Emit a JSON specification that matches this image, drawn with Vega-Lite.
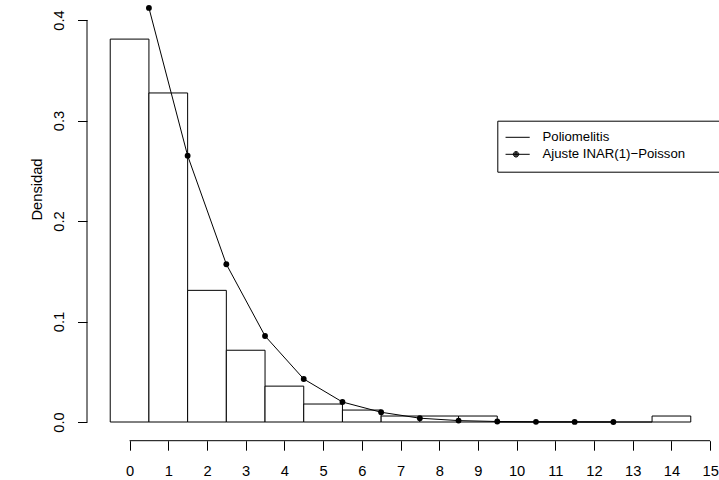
{
  "$schema": "https://vega.github.io/schema/vega-lite/v6.json",
  "width": 627,
  "height": 440.7,
  "autosize": {"type": "none"},
  "padding": {"left": 87, "top": 0, "right": 5, "bottom": 39.3},
  "background": "white",
  "config": {
    "view": {"stroke": null},
    "font": "Liberation Sans",
    "axis": {
      "grid": false,
      "domain": false,
      "tickColor": "black",
      "tickWidth": 1,
      "tickSize": 9.5,
      "labelColor": "black",
      "labelFont": "Liberation Sans",
      "labelFontSize": 14.7,
      "labelFlush": false,
      "labelOverlap": false,
      "titleFont": "Liberation Sans",
      "titleFontSize": 14.7,
      "titleFontWeight": "normal",
      "titleColor": "black"
    }
  },
  "datasets": {
    "histograma": [
      {"desde": -0.5, "hasta": 0.5, "densidad": 0.381},
      {"desde": 0.5, "hasta": 1.5, "densidad": 0.3274},
      {"desde": 1.5, "hasta": 2.5, "densidad": 0.131},
      {"desde": 2.5, "hasta": 3.5, "densidad": 0.0714},
      {"desde": 3.5, "hasta": 4.5, "densidad": 0.0357},
      {"desde": 4.5, "hasta": 5.5, "densidad": 0.0179},
      {"desde": 5.5, "hasta": 6.5, "densidad": 0.0119},
      {"desde": 6.5, "hasta": 7.5, "densidad": 0.00595},
      {"desde": 7.5, "hasta": 8.5, "densidad": 0.00595},
      {"desde": 8.5, "hasta": 9.5, "densidad": 0.00595},
      {"desde": 9.5, "hasta": 10.5, "densidad": 0},
      {"desde": 10.5, "hasta": 11.5, "densidad": 0},
      {"desde": 11.5, "hasta": 12.5, "densidad": 0},
      {"desde": 12.5, "hasta": 13.5, "densidad": 0},
      {"desde": 13.5, "hasta": 14.5, "densidad": 0.00595}
    ],
    "ajuste": [
      {"x": 0.5, "densidad": 0.412},
      {"x": 1.5, "densidad": 0.265},
      {"x": 2.5, "densidad": 0.157},
      {"x": 3.5, "densidad": 0.0856},
      {"x": 4.5, "densidad": 0.0428},
      {"x": 5.5, "densidad": 0.0199},
      {"x": 6.5, "densidad": 0.0097},
      {"x": 7.5, "densidad": 0.0038},
      {"x": 8.5, "densidad": 0.0014},
      {"x": 9.5, "densidad": 0.0005},
      {"x": 10.5, "densidad": 0.0002},
      {"x": 11.5, "densidad": 0.0001},
      {"x": 12.5, "densidad": 0.00003}
    ]
  },
  "layer": [
    {
      "data": {"name": "histograma"},
      "mark": {"type": "rect", "fill": "white", "stroke": "black", "strokeWidth": 1},
      "encoding": {
        "x": {
          "field": "desde",
          "type": "quantitative",
          "scale": {"domain": [-1.1, 15.1], "nice": false, "zero": false},
          "axis": {
            "title": null,
            "values": [0, 1, 2, 3, 4, 5, 6, 7, 8, 9, 10, 11, 12, 13, 14, 15],
            "format": "d",
            "labelBaseline": "middle",
            "labelPadding": 21
          }
        },
        "x2": {"field": "hasta"},
        "y": {
          "field": "densidad",
          "type": "quantitative",
          "scale": {"domain": [-0.0186, 0.4199], "nice": false, "zero": false},
          "axis": {
            "title": "Densidad",
            "values": [0, 0.1, 0.2, 0.3, 0.4],
            "format": ".1f",
            "labelAngle": 270,
            "labelAlign": "center",
            "labelBaseline": "middle",
            "labelPadding": 18,
            "titleAngle": 270,
            "titleAlign": "center",
            "titleBaseline": "middle",
            "titleX": -50,
            "titleY": 189
          }
        },
        "y2": {"datum": 0}
      }
    },
    {
      "data": {"values": [{"desde": 0, "hasta": 15, "nivel": -0.0186}]},
      "mark": {"type": "rule", "color": "black", "strokeWidth": 1},
      "encoding": {
        "x": {"field": "desde", "type": "quantitative"},
        "x2": {"field": "hasta"},
        "y": {"field": "nivel", "type": "quantitative"}
      }
    },
    {
      "data": {"values": [{"desde": 0, "hasta": 0.4, "nivel": -1.1}]},
      "mark": {"type": "rule", "color": "black", "strokeWidth": 1},
      "encoding": {
        "y": {"field": "desde", "type": "quantitative"},
        "y2": {"field": "hasta"},
        "x": {"field": "nivel", "type": "quantitative"}
      }
    },
    {
      "data": {"name": "ajuste"},
      "mark": {"type": "line", "color": "black", "strokeWidth": 1},
      "encoding": {
        "x": {"field": "x", "type": "quantitative"},
        "y": {"field": "densidad", "type": "quantitative"}
      }
    },
    {
      "data": {"name": "ajuste"},
      "mark": {"type": "point", "filled": true, "color": "black", "size": 34, "opacity": 1},
      "encoding": {
        "x": {"field": "x", "type": "quantitative"},
        "y": {"field": "densidad", "type": "quantitative"}
      }
    },
    {
      "data": {"values": [{"serie": "Poliomelitis"}, {"serie": "Ajuste INAR(1)−Poisson"}]},
      "transform": [{"filter": "false"}],
      "mark": {"type": "point", "filled": false, "color": "black", "strokeWidth": 1, "opacity": 1},
      "encoding": {
        "shape": {
          "field": "serie",
          "type": "nominal",
          "scale": {
            "domain": ["Poliomelitis", "Ajuste INAR(1)−Poisson"],
            "range": ["stroke", "M-1,0L1,0M0.2,0A0.2,0.2,0,1,1,-0.2,0A0.2,0.2,0,1,1,0.2,0M0.14,0A0.14,0.14,0,1,1,-0.14,0A0.14,0.14,0,1,1,0.14,0M0.08,0A0.08,0.08,0,1,1,-0.08,0A0.08,0.08,0,1,1,0.08,0M0.03,0A0.03,0.03,0,1,1,-0.03,0A0.03,0.03,0,1,1,0.03,0"]
          },
          "legend": {
            "title": "\u00a0",
            "titleOrient": "right",
            "titlePadding": 30,
            "titleFontSize": 13.2,
            "orient": "none",
            "legendX": 410.3,
            "legendY": 120.7,
            "padding": 8.25,
            "strokeColor": "black",
            "fillColor": "white",
            "symbolSize": 746,
            "symbolStrokeWidth": 1,
            "symbolStrokeColor": "black",
            "symbolOpacity": 1,
            "symbolOffset": -4,
            "labelFont": "Liberation Sans",
            "labelFontSize": 13.2,
            "labelColor": "black",
            "labelOffset": 12,
            "clipHeight": 16.7,
            "rowPadding": 0
          }
        }
      }
    }
  ]
}
